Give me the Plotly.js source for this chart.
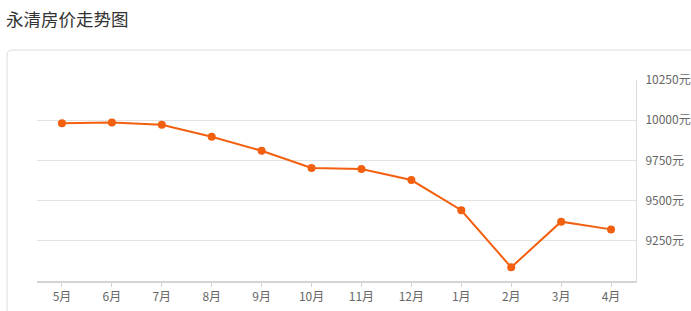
<!DOCTYPE html>
<html>
<head>
<meta charset="utf-8">
<script src="https://cdn.plot.ly/plotly-3.0.1.min.js"></script>
<style>
html,body{margin:0;padding:0;background:#fff;}
#chart{width:691px;height:311px;}
</style>
</head>
<body>
<div id="chart"></div>
<script>
const months = ["5月","6月","7月","8月","9月","10月","11月","12月","1月","2月","3月","4月"];
const prices = [9981, 9986, 9971, 9897, 9810, 9703, 9697, 9628, 9440, 9085, 9369, 9321];
const yTickVals = [9250, 9500, 9750, 10000, 10250];
const yTickText = ["9250元", "9500元", "9750元", "10000元", "10250元"];

const W = 691, H = 311;
const L = 37, R = 55, T = 80, B = 30;
const pw = W - L - R, ph = H - T - B;
function px(x){ return (x - L) / pw; }
function py(y){ return (H - B - y) / ph; }
// card border with rounded top-left corner
const r = 5;
const cardPath = "M " + px(7) + "," + py(330) +
  " L " + px(7) + "," + py(50 + r) +
  " Q " + px(7) + "," + py(50) + " " + px(7 + r) + "," + py(50) +
  " L " + px(720) + "," + py(50);

const trace = {
  type: "scatter",
  mode: "lines+markers",
  x: months,
  y: prices,
  line: {color: "#f2600f", width: 2},
  marker: {color: "#f2600f", size: 8},
  hoverinfo: "x+y"
};

const layout = {
  width: W, height: H,
  margin: {l: L, r: R, t: T, b: B},
  paper_bgcolor: "#fff",
  plot_bgcolor: "#fff",
  showlegend: false,
  title: {
    text: "永清房价走势图",
    font: {family: "Noto Sans CJK SC", size: 17.5, color: "#333"},
    xref: "container", x: 6 / W, xanchor: "left",
    yref: "container", y: 1 - 20 / H, yanchor: "middle"
  },
  xaxis: {
    type: "category",
    range: [-0.5, 11.5],
    showgrid: false,
    zeroline: false,
    showline: true,
    linecolor: "#d4d4d4",
    linewidth: 2,
    ticks: "outside",
    ticklen: 4,
    tickcolor: "#d4d4d4",
    tickfont: {family: "Noto Sans CJK SC", size: 12, color: "#666"},
    fixedrange: true
  },
  yaxis: {
    side: "right",
    range: [9000, 10250],
    tickvals: yTickVals,
    ticktext: yTickText,
    showgrid: true,
    gridcolor: "#e2e2e2",
    zeroline: false,
    showline: true,
    linecolor: "#dcdcdc",
    linewidth: 1,
    ticks: "",
    ticklabelstandoff: 6,
    tickfont: {family: "Noto Sans CJK SC", size: 12, color: "#666"},
    fixedrange: true
  },
  shapes: [{
    type: "path",
    xref: "paper", yref: "paper",
    path: cardPath,
    line: {color: "#dcdcdc", width: 1},
    layer: "below"
  }]
};

Plotly.newPlot("chart", [trace], layout, {displayModeBar: false, staticPlot: false});
</script>
</body>
</html>
